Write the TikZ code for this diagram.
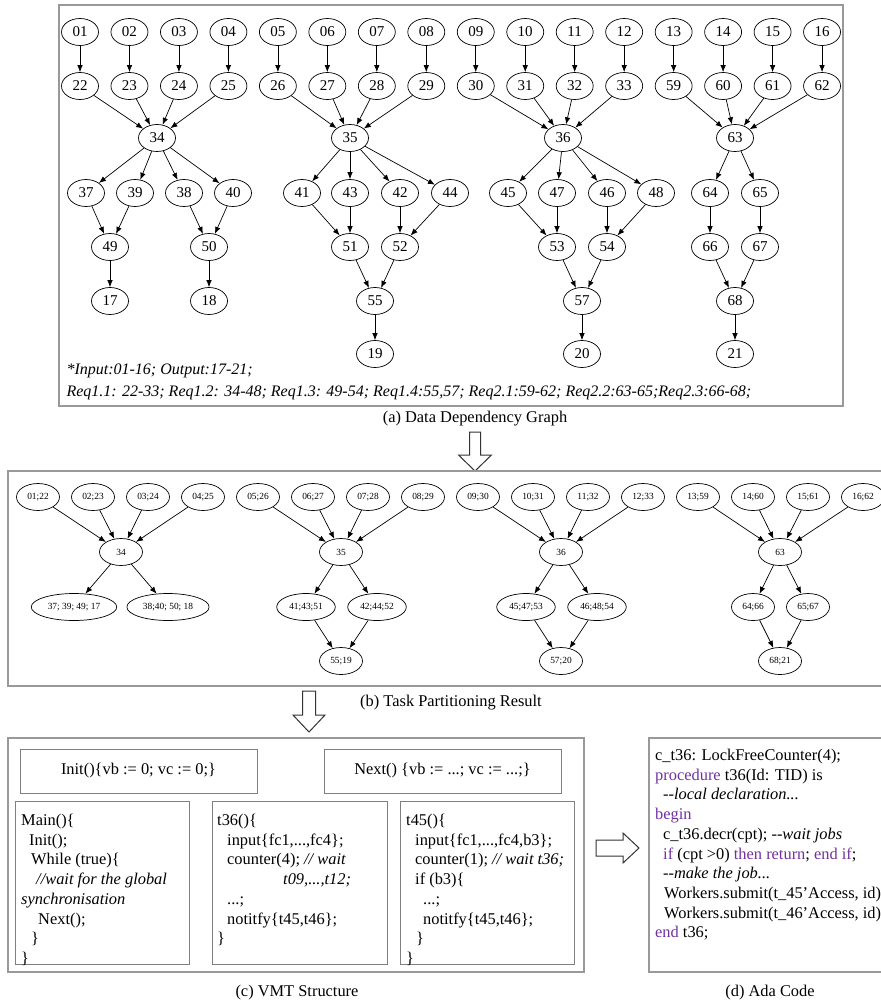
\documentclass[tikz,border=0pt]{standalone}
\usepackage{fontspec}
\setmainfont{Liberation Serif}
\usepackage{tikz}
\usetikzlibrary{arrows.meta,shapes.geometric}
\usepackage{xcolor}
\definecolor{adapurple}{HTML}{7030A0}
\newcommand{\adakw}[1]{\textcolor{adapurple}{#1}}

\begin{document}
\begin{tikzpicture}[x=1pt,y=-1pt,
      every node/.style={font=\fontsize{16.4}{19.7}\selectfont},
      gnode/.style={draw,ellipse,minimum width=37pt,minimum height=27pt,inner sep=0pt,
        line width=0.7pt,font=\fontsize{15}{18}\selectfont},
      tnode/.style={draw,ellipse,minimum width=43pt,minimum height=27pt,inner xsep=4pt,
        inner ysep=0pt,line width=0.7pt,font=\fontsize{9.4}{11}\selectfont},
      dep/.style={-{Latex[length=7pt,width=5.5pt]},line width=0.7pt},
      panel/.style={draw=black!40,line width=1.2pt},
      codebox/.style={draw=black!50,line width=1pt},
      code/.style={align=left,anchor=north west,inner sep=0pt},
      note/.style={anchor=west,font=\fontsize{16}{19.2}\selectfont\itshape},
      hollow/.style={draw=black!80,line width=1pt,fill=white,line join=miter}]
    \useasboundingbox (0,0) rectangle (881,1005);

    % (a) data dependency graph
    \draw[panel] (59,5) rectangle (843,406);
    \foreach \t [count=\i from 0] in {01,02,03,04,05,06,07,08,09,10,11,12,13,14,15,16}
      \node[gnode] (a\t) at (80+49.47*\i,32) {\t};
    \foreach \s/\t [count=\i from 0] in {01/22,02/23,03/24,04/25,05/26,06/27,07/28,08/29,
        09/30,10/31,11/32,12/33,13/59,14/60,15/61,16/62} {
      \node[gnode] (a\t) at (80+49.47*\i,86) {\t};
      \draw[dep] (a\s) -- (a\t);
    }
    \foreach \t/\x in {34/157,35/350,36/563,63/735}
      \node[gnode] (a\t) at (\x,138) {\t};
    \foreach \t/\x in {37/86,39/135,38/184,40/233,41/302,43/350,42/400,44/450,
        45/508,47/557,46/607,48/656,64/710,65/760}
      \node[gnode] (a\t) at (\x,193) {\t};
    \foreach \t/\x in {49/110,50/209,51/350,52/400,53/557,54/607,66/710,67/760}
      \node[gnode] (a\t) at (\x,247) {\t};
    \foreach \t/\x in {17/110,18/209,55/375,57/582,68/735}
      \node[gnode] (a\t) at (\x,301) {\t};
    \foreach \t/\x in {19/375,20/582,21/735}
      \node[gnode] (a\t) at (\x,354) {\t};
    \foreach \s/\t in {22/34,23/34,24/34,25/34,26/35,27/35,28/35,29/35,
        30/36,31/36,32/36,33/36,59/63,60/63,61/63,62/63,
        34/37,34/39,34/38,34/40,37/49,39/49,38/50,40/50,49/17,50/18,
        35/41,35/43,35/42,35/44,41/51,43/51,42/52,44/52,51/55,52/55,55/19,
        36/45,36/47,36/46,36/48,45/53,47/53,46/54,48/54,53/57,54/57,57/20,
        63/64,63/65,64/66,65/67,66/68,67/68,68/21}
      \draw[dep] (a\s) -- (a\t);
    \node[note] (inout) at (63,371) {*Input:01-16; Output:17-21;};
    \node[note] (reqs) at (63,393) {Req1.1: 22-33; Req1.2: 34-48; Req1.3: 49-54; Req1.4:55,57; Req2.1:59-62; Req2.2:63-65;Req2.3:66-68;};
    \node (capa) at (475,419) {(a) Data Dependency Graph};

    \draw[hollow] (469.5,432) -- (480.5,432) -- (480.5,455) -- (491.5,455) -- (475,471)
      -- (458.5,455) -- (469.5,455) -- cycle;

    % (b) task partitioning result
    \draw[panel] (8,471) rectangle (895,686);
    \foreach \t [count=\i from 0] in {01;22,02;23,03;24,04;25,05;26,06;27,07;28,08;29,
        09;30,10;31,11;32,12;33,13;59,14;60,15;61,16;62}
      \node[tnode] (b\i) at (38+55*\i,497) {\t};
    \node[tnode] (b34) at (121,552) {34};
    \node[tnode] (b35) at (341,552) {35};
    \node[tnode] (b36) at (561,552) {36};
    \node[tnode] (b63) at (780,552) {63};
    \node[tnode] (b37) at (74,607) {37; 39; 49; 17};
    \node[tnode] (b38) at (168,607) {38;40; 50; 18};
    \node[tnode] (b41) at (306,607) {41;43;51};
    \node[tnode] (b42) at (377,607) {42;44;52};
    \node[tnode] (b45) at (526,607) {45;47;53};
    \node[tnode] (b46) at (597,607) {46;48;54};
    \node[tnode] (b64) at (753,607) {64;66};
    \node[tnode] (b65) at (808,607) {65;67};
    \node[tnode] (b55) at (341,661) {55;19};
    \node[tnode] (b57) at (561,661) {57;20};
    \node[tnode] (b68) at (780,661) {68;21};
    \foreach \s/\t in {0/34,1/34,2/34,3/34,4/35,5/35,6/35,7/35,
        8/36,9/36,10/36,11/36,12/63,13/63,14/63,15/63,
        34/37,34/38,35/41,35/42,41/55,42/55,36/45,36/46,45/57,46/57,
        63/64,63/65,64/68,65/68}
      \draw[dep] (b\s) -- (b\t);
    \node (capb) at (451,703) {(b) Task Partitioning Result};

    \draw[hollow] (302.5,691) -- (315.5,691) -- (315.5,715) -- (325,715) -- (309,732)
      -- (293,715) -- (302.5,715) -- cycle;

    % (c) VMT structure
    \draw[panel] (8,738) rectangle (584,972);
    \node[codebox,minimum width=237pt,minimum height=44pt] (init) at (138.5,771)
      {Init()\{vb := 0; vc := 0;\}};
    \node[codebox,minimum width=237pt,minimum height=44pt] (next) at (442.5,771)
      {Next() \{vb := ...; vc := ...;\}};
    \draw[codebox] (15,801) rectangle (189,964);
    \draw[codebox] (212,801) rectangle (387,964);
    \draw[codebox] (400,801) rectangle (574,964);
    \node[code] (main) at (21,814) {Main()\{\\
      \hspace*{8pt}Init();\\
      \hspace*{10pt}While (true)\{\\
      \hspace*{15pt}\textit{//wait for the global}\\
      \textit{synchronisation}\\
      \hspace*{17pt}Next();\\
      \hspace*{10pt}\}\\
      \}};
    \node[code] (t36) at (217,814) {t36()\{\\
      \hspace*{10pt}input\{fc1,...,fc4\};\\
      \hspace*{10pt}counter(4); \textit{// wait}\\
      \hspace*{66pt}\textit{t09,...,t12;}\\
      \hspace*{10pt}...;\\
      \hspace*{10pt}notitfy\{t45,t46\};\\
      \}};
    \node[code] (t45) at (406,814) {t45()\{\\
      \hspace*{9pt}input\{fc1,...,fc4,b3\};\\
      \hspace*{9pt}counter(1); \textit{// wait t36;}\\
      \hspace*{9pt}if (b3)\{\\
      \hspace*{17pt}...;\\
      \hspace*{17pt}notitfy\{t45,t46\};\\
      \hspace*{10pt}\}\\
      \}};
    \node (capc) at (297,993) {(c) VMT Structure};

    \draw[hollow] (596,840) -- (623,840) -- (623,833) -- (639,848) -- (623,863)
      -- (623,856) -- (596,856) -- cycle;

    % (d) Ada code
    \draw[panel] (649,738) rectangle (895,972);
    \node[code] (ada) at (655,749) {c\_t36: LockFreeCounter(4);\\
      \adakw{procedure} t36(Id: TID) is\\
      \hspace*{8pt}\textit{-{}-local declaration...}\\
      \adakw{begin}\\
      \hspace*{8pt}c\_t36.decr(cpt); \textit{-{}-wait jobs}\\
      \hspace*{8pt}\adakw{if} (cpt >0) \adakw{then return}; \adakw{end if};\\
      \hspace*{8pt}\textit{-{}-make the job...}\\
      \hspace*{9pt}Workers.submit(t\_45'Access, id);\\
      \hspace*{9pt}Workers.submit(t\_46'Access, id);\\
      \adakw{end} t36;};
    \node (capd) at (770,993) {(d) Ada Code};
  \end{tikzpicture}
\end{document}
